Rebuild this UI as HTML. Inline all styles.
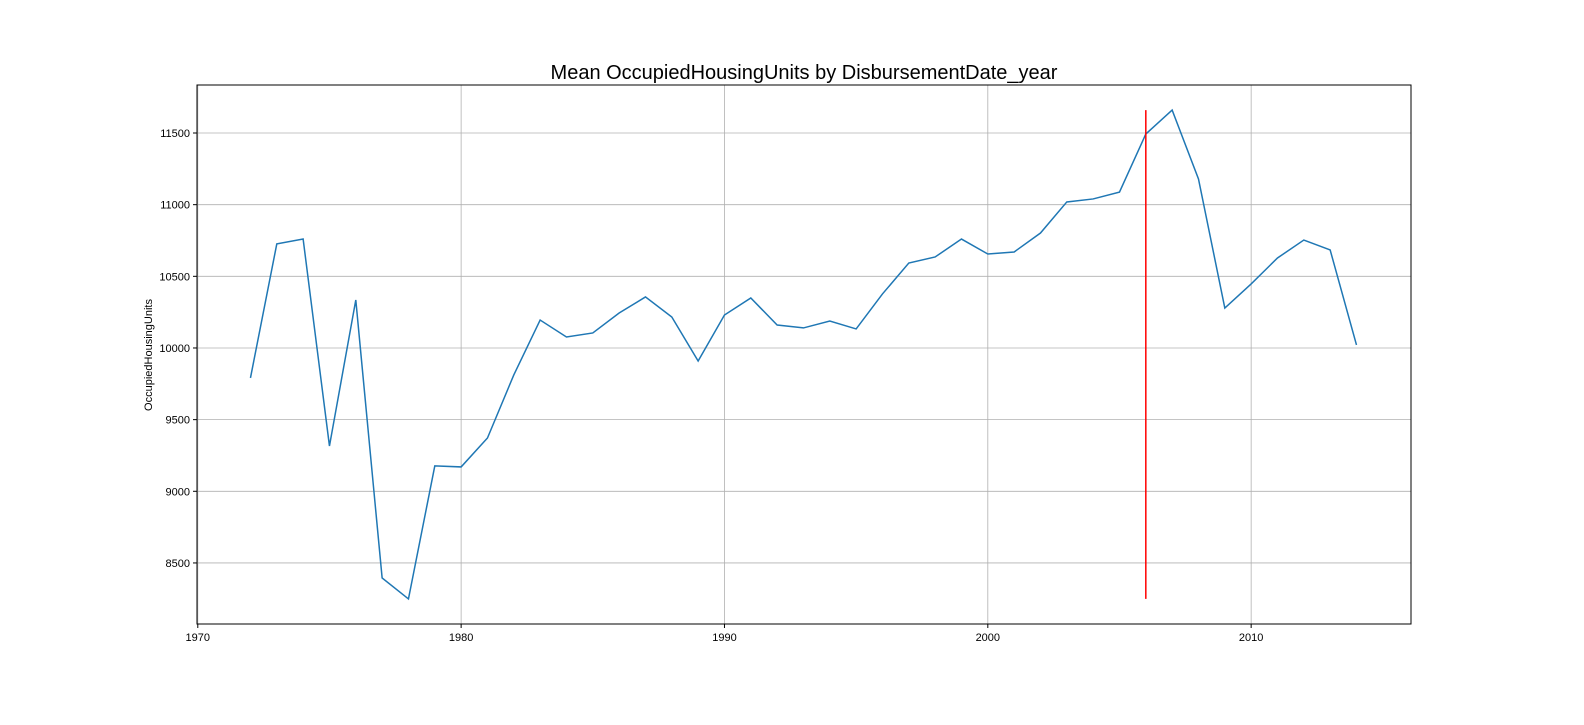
<!DOCTYPE html>
<html><head><meta charset="utf-8"><style>
body{margin:0;background:#fff;font-family:"Liberation Sans",sans-serif}
svg text{font-family:"Liberation Sans","DejaVu Sans",sans-serif}
</style></head><body>
<svg id="chart" width="1584" height="720" xmlns="http://www.w3.org/2000/svg">
<rect width="1584" height="720" fill="#fff"/>
<text x="804" y="79" font-size="20" text-anchor="middle">Mean OccupiedHousingUnits by DisbursementDate_year</text>
<text transform="translate(152,355) rotate(-90)" font-size="11" text-anchor="middle">OccupiedHousingUnits</text>
<g id="grid"></g><g id="ticks"></g><g id="marks"></g>
<rect x="197" y="85" width="1214" height="539" fill="none" stroke="#000" stroke-width="1"/>
</svg>
<script>
const years=[1972,1973,1974,1975,1976,1977,1978,1979,1980,1981,1982,1983,1984,1985,1986,1987,1988,1989,1990,1991,1992,1993,1994,1995,1996,1997,1998,1999,2000,2001,2002,2003,2004,2005,2006,2007,2008,2009,2010,2011,2012,2013,2014];
const values=[9791,10726,10760,9316,10335,8395,8249,9177,9170,9372,9812,10195,10077,10105,10244,10356,10216,9909,10230,10349,10160,10140,10188,10133,10377,10593,10635,10760,10656,10670,10802,11019,11040,11088,11493,11660,11179,10279,10447,10628,10753,10684,10021];
const xTicks=[1970,1980,1990,2000,2010];
const yTicks=[8500,9000,9500,10000,10500,11000,11500];
const markerYear=[2006];
const NS='http://www.w3.org/2000/svg';
const L=197,R=1411,T=85,B=624,x0=1969.97,x1=2016.07,y0=8074,y1=11835;
const xs=v=>L+(v-x0)/(x1-x0)*(R-L);
const ys=v=>B-(v-y0)/(y1-y0)*(B-T);
function mk(tag,attrs,parent){const e=document.createElementNS(NS,tag);for(const k in attrs)e.setAttribute(k,attrs[k]);document.getElementById(parent).appendChild(e);return e;}
xTicks.forEach(t=>{const x=xs(t);
 const g=mk('line',{x1:x,x2:x,y1:T,y2:B,stroke:'#b0b0b0','stroke-width':0.8},'grid');
 
 
 mk('line',{x1:x,x2:x,y1:B,y2:B+4,stroke:'#000'},'ticks');
 const tx=mk('text',{x:x,y:B+17,'font-size':11,'text-anchor':'middle'},'ticks');tx.textContent=t;
 
 
});
yTicks.forEach(t=>{const y=ys(t);
 const g=mk('line',{x1:L,x2:R,y1:y,y2:y,stroke:'#b0b0b0','stroke-width':0.8},'grid');
 
 
 mk('line',{x1:L-4,x2:L,y1:y,y2:y,stroke:'#000'},'ticks');
 const tx=mk('text',{x:L-7,y:y+4,'font-size':11,'text-anchor':'end'},'ticks');tx.textContent=t;
 
 
});
const p=mk('polyline',{points:years.map((y,i)=>xs(y)+','+ys(values[i])).join(' '),fill:'none',stroke:'#1f77b4','stroke-width':1.5},'marks');


const mn=Math.min(...values),mx=Math.max(...values);
markerYear.forEach(m=>{
 const r=mk('line',{x1:xs(m),x2:xs(m),y1:ys(mn),y2:ys(mx),stroke:'red','stroke-width':1.5},'marks');
 
 
});
</script>
</body></html>
